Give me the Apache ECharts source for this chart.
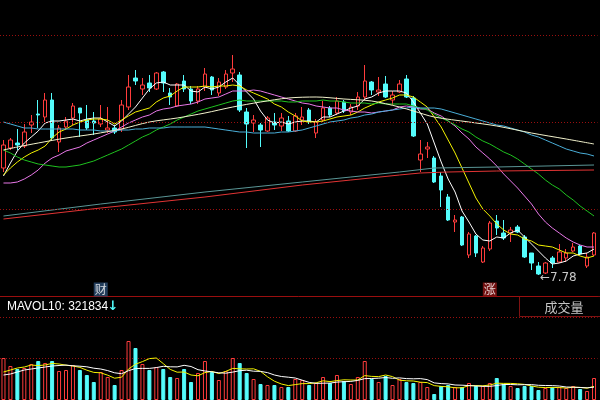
<!DOCTYPE html>
<html><head><meta charset="utf-8">
<script src="https://cdn.jsdelivr.net/npm/echarts@6/dist/echarts.min.js"></script>
<style>html,body{margin:0;padding:0;background:#000;}#c{width:600px;height:400px;}</style>
</head><body><div id="c"></div>
<script>
// ---- categories (trading days) ----
const days = [];
for (let i = 1; i <= 86; i++) days.push('D' + i);

// ---- candles ----
const opens = [8.85,9.05,9.10,9.07,9.28,9.39,9.36,9.53,9.11,9.26,
9.35,9.45,9.33,9.32,9.29,9.23,9.25,9.24,9.46,9.75,
9.64,9.70,9.64,9.81,9.60,9.47,9.72,9.64,9.52,9.66,
9.76,9.60,9.66,9.80,9.78,9.41,9.30,9.28,9.22,9.31,
9.27,9.32,9.22,9.33,9.43,9.20,9.33,9.45,9.40,9.51,
9.41,9.47,9.56,9.71,9.61,9.69,9.53,9.61,9.74,9.55,
8.93,9.04,8.95,8.77,8.56,8.31,8.36,7.98,8.17,7.91,
8.04,8.32,8.20,8.20,8.26,8.16,8.00,7.87,7.80,7.95,
7.91,7.95,8.02,8.07,7.87,7.98];
const closes = [9.08,9.13,9.08,9.21,9.31,9.38,9.53,9.15,9.25,9.32,
9.47,9.40,9.25,9.30,9.34,9.25,9.21,9.48,9.66,9.72,
9.68,9.65,9.80,9.70,9.56,9.69,9.64,9.52,9.64,9.79,
9.63,9.71,9.79,9.84,9.43,9.29,9.33,9.23,9.35,9.28,
9.35,9.22,9.37,9.36,9.31,9.31,9.45,9.38,9.52,9.42,
9.46,9.56,9.72,9.63,9.63,9.56,9.58,9.69,9.56,9.17,
8.99,9.06,8.71,8.63,8.33,8.33,8.08,8.19,8.00,8.05,
8.30,8.25,8.15,8.23,8.21,7.96,7.90,7.79,7.90,7.90,
8.01,8.00,8.06,7.99,7.96,8.20];
const lows = [8.81,9.03,9.03,9.05,9.20,9.25,9.31,9.13,9.01,9.23,
9.28,9.16,9.23,9.18,9.26,9.20,9.19,9.21,9.43,9.68,
9.58,9.61,9.63,9.61,9.48,9.46,9.61,9.49,9.49,9.62,
9.58,9.57,9.64,9.71,9.41,9.05,9.21,9.06,9.21,9.23,
9.22,9.21,9.21,9.28,9.29,9.15,9.31,9.36,9.38,9.40,
9.38,9.43,9.53,9.58,9.57,9.55,9.48,9.60,9.55,9.16,
8.81,8.95,8.70,8.46,8.32,8.21,8.07,7.95,7.96,7.90,
8.02,8.18,8.13,8.11,8.20,7.95,7.83,7.78,7.79,7.85,
7.90,7.91,8.01,7.98,7.85,7.97];
const highs = [9.13,9.15,9.24,9.29,9.38,9.53,9.60,9.60,9.28,9.36,
9.50,9.45,9.48,9.41,9.48,9.46,9.28,9.53,9.78,9.83,
9.75,9.78,9.81,9.82,9.65,9.70,9.78,9.67,9.67,9.85,
9.77,9.75,9.83,9.98,9.81,9.45,9.38,9.30,9.37,9.40,
9.40,9.37,9.40,9.46,9.45,9.34,9.52,9.47,9.56,9.53,
9.49,9.61,9.88,9.72,9.76,9.77,9.62,9.73,9.78,9.57,
9.13,9.11,8.97,8.81,8.59,8.38,8.37,8.21,8.18,8.07,
8.32,8.38,8.33,8.26,8.28,8.18,8.00,7.91,7.91,7.97,
8.09,8.04,8.10,8.08,8.00,8.21];

// ---- moving averages ----
const ma5 = [8.77,8.90,9.02,9.10,9.16,9.22,9.30,9.32,9.32,9.33,
9.34,9.32,9.34,9.35,9.35,9.31,9.27,9.32,9.39,9.46,
9.55,9.64,9.70,9.71,9.68,9.68,9.68,9.62,9.61,9.66,
9.64,9.66,9.71,9.75,9.68,9.61,9.54,9.42,9.33,9.30,
9.31,9.29,9.31,9.32,9.32,9.31,9.36,9.36,9.39,9.42,
9.45,9.47,9.54,9.56,9.60,9.62,9.62,9.62,9.60,9.51,
9.40,9.29,9.10,8.91,8.74,8.61,8.42,8.31,8.19,8.13,
8.12,8.16,8.15,8.20,8.23,8.16,8.09,8.02,7.95,7.89,
7.90,7.92,7.97,7.99,8.00,8.04];
const ma10 = [8.78,8.85,8.91,8.96,9.00,9.03,9.07,9.15,9.21,9.24,
9.28,9.31,9.33,9.34,9.34,9.33,9.29,9.33,9.37,9.41,
9.43,9.45,9.51,9.55,9.57,9.62,9.66,9.66,9.66,9.67,
9.66,9.67,9.67,9.68,9.67,9.63,9.60,9.57,9.54,9.49,
9.46,9.41,9.37,9.32,9.31,9.31,9.32,9.34,9.36,9.37,
9.38,9.41,9.45,9.48,9.51,9.53,9.55,9.58,9.58,9.56,
9.51,9.46,9.36,9.26,9.13,9.00,8.85,8.70,8.55,8.44,
8.37,8.29,8.23,8.19,8.18,8.14,8.12,8.08,8.07,8.06,
8.03,8.00,8.00,7.97,7.95,7.97];
const ma20 = [8.70,8.70,8.71,8.74,8.78,8.83,8.90,8.95,8.98,9.02,
9.04,9.06,9.10,9.13,9.16,9.19,9.22,9.26,9.30,9.33,
9.36,9.38,9.42,9.44,9.45,9.47,9.48,9.49,9.51,9.54,
9.55,9.56,9.59,9.62,9.62,9.62,9.63,9.62,9.60,9.58,
9.56,9.54,9.52,9.50,9.49,9.47,9.46,9.45,9.45,9.43,
9.42,9.41,9.41,9.40,9.41,9.42,9.43,9.46,9.47,9.46,
9.44,9.44,9.40,9.37,9.32,9.27,9.20,9.14,9.06,9.00,
8.94,8.87,8.79,8.72,8.65,8.57,8.49,8.39,8.31,8.25,
8.20,8.15,8.11,8.08,8.06,8.06];
const ma30 = [9.03,9.00,8.96,8.93,8.91,8.89,8.88,8.87,8.86,8.86,
8.87,8.88,8.90,8.92,8.95,8.98,9.01,9.04,9.08,9.12,
9.16,9.19,9.23,9.26,9.29,9.33,9.36,9.39,9.42,9.44,
9.46,9.48,9.50,9.52,9.53,9.52,9.52,9.52,9.52,9.52,
9.52,9.51,9.51,9.52,9.52,9.52,9.53,9.52,9.52,9.51,
9.50,9.50,9.50,9.49,9.50,9.49,9.49,9.49,9.49,9.47,
9.45,9.43,9.39,9.35,9.32,9.28,9.24,9.21,9.16,9.12,
9.09,9.05,9.01,8.98,8.94,8.89,8.84,8.79,8.73,8.68,
8.64,8.58,8.53,8.47,8.42,8.37];
const ma60 = [9.31,9.29,9.27,9.25,9.25,9.24,9.24,9.24,9.24,9.24,
9.24,9.23,9.23,9.23,9.22,9.22,9.22,9.23,9.23,9.24,
9.24,9.25,9.25,9.25,9.26,9.26,9.26,9.26,9.26,9.26,
9.25,9.24,9.23,9.22,9.21,9.21,9.20,9.20,9.20,9.20,
9.21,9.21,9.22,9.23,9.25,9.27,9.29,9.31,9.32,9.33,
9.35,9.36,9.38,9.39,9.41,9.42,9.43,9.44,9.45,9.46,
9.45,9.45,9.45,9.44,9.42,9.40,9.38,9.36,9.34,9.32,
9.30,9.28,9.27,9.25,9.23,9.21,9.18,9.16,9.13,9.10,
9.07,9.04,9.02,9.00,8.99,8.97];
// long averages, read at sampled days
const ma120Idx = [0,2,5,9,13,17,21,25,29,33,37,41,45,49,53,57,59,62,67,71,76,81,85];
const ma120Val = [9.03,9.06,9.10,9.15,9.19,9.24,9.31,9.35,9.40,9.46,9.51,9.55,9.56,9.54,9.52,9.46,9.42,9.36,9.31,9.27,9.20,9.14,9.09];
const ma180Idx = [0,14,29,43,50,57,62,71,85];
const ma180Val = [8.37,8.49,8.61,8.71,8.76,8.81,8.85,8.86,8.88];
const ma250Idx = [0,14,29,43,50,57,60,64,71,85];
const ma250Val = [8.34,8.45,8.56,8.68,8.73,8.78,8.80,8.81,8.82,8.83];

// ---- volume ----
const volumes = [1050000,850000,775000,800000,900000,975000,925000,975000,725000,750000,
875000,750000,625000,450000,700000,575000,375000,750000,1475000,1300000,
900000,750000,825000,775000,575000,550000,775000,450000,675000,975000,
700000,500000,725000,1050000,925000,675000,525000,400000,375000,375000,
325000,325000,525000,500000,375000,425000,575000,425000,625000,475000,
400000,575000,975000,525000,450000,600000,375000,525000,450000,425000,
450000,325000,150000,350000,375000,325000,325000,425000,350000,350000,
425000,550000,400000,350000,300000,350000,350000,250000,300000,325000,
325000,300000,350000,275000,225000,550000];
const mavol5 = [700000,750000,800000,825000,875000,860000,875000,915000,900000,870000,
850000,815000,745000,690000,680000,620000,545000,570000,775000,895000,
960000,1035000,1050000,910000,765000,695000,700000,625000,605000,685000,
715000,660000,715000,790000,780000,775000,780000,715000,580000,470000,
400000,360000,385000,410000,410000,430000,480000,460000,485000,505000,
500000,500000,610000,590000,585000,625000,585000,495000,480000,475000,
445000,435000,360000,340000,330000,305000,305000,360000,360000,355000,
375000,420000,415000,415000,405000,390000,350000,320000,310000,315000,
310000,300000,320000,315000,295000,340000];
const mavol10 = [625000,650000,700000,750000,775000,800000,825000,850000,862500,872500,
855000,845000,830000,795000,775000,735000,680000,657500,732500,787500,
790000,790000,810000,842500,830000,827500,867500,837500,757500,725000,
705000,680000,670000,697500,732500,745000,720000,715000,685000,625000,
587500,570000,550000,495000,440000,415000,420000,422500,447500,457500,
465000,490000,535000,537500,545000,562500,542500,552500,535000,530000,
535000,510000,427500,410000,402500,375000,370000,360000,350000,342500,
340000,362500,387500,387500,380000,382500,385000,367500,362500,360000,
350000,325000,320000,312500,305000,321834];

// ---- price guide levels and texts ----
const priceLevels = [8.44, 9.31, 10.18];
const events = [{idx: 14, text: '财', color: '#2b4c72'}, {idx: 70, text: '涨', color: '#8e1414'}];
const eventLevel = 7.635;
const mavolLabel = 'MAVOL10: 321834';
const panelTitle = '成交量';

const UP = '#ff3c3c', DOWN = '#54fcfc', GRIDC = '#9a0f0f';

const candles = opens.map((o, i) => [o, closes[i], lows[i], highs[i]]);
const pairs = (idx, val) => idx.map((d, k) => [d, val[k]]);
const volData = volumes.map((v, i) => ({
  value: v,
  itemStyle: closes[i] >= opens[i]
    ? {color: '#000', borderColor: UP, borderWidth: 1}
    : {color: DOWN, borderColor: DOWN, borderWidth: 1}
}));

const line = (name, data, color, xi, yi, extra) => Object.assign({
  name, type: 'line', data, xAxisIndex: xi, yAxisIndex: yi,
  showSymbol: false, symbol: 'none', silent: true, z: 3,
  lineStyle: {color, width: 1}
}, extra || {});

const chart = echarts.init(document.getElementById('c'), null, {renderer: 'canvas'});
chart.setOption({
  backgroundColor: '#000',
  animation: false,
  grid: [
    {left: -4.5, right: 2.5, top: 0, height: 296},
    {left: -4.5, right: 2.5, top: 317, height: 83}
  ],
  xAxis: [
    {type: 'category', data: days, gridIndex: 0, boundaryGap: true,
     axisLine: {show: true, lineStyle: {color: GRIDC, width: 1}}, axisTick: {show: false}, axisLabel: {show: false}, splitLine: {show: false}},
    {type: 'value', gridIndex: 0, min: -0.5, max: 85.5, show: false},
    {type: 'category', data: days, gridIndex: 1, boundaryGap: true,
     axisLine: {show: false}, axisTick: {show: false}, axisLabel: {show: false}, splitLine: {show: false}}
  ],
  yAxis: [
    {type: 'value', gridIndex: 0, min: 7.57, max: 10.53,
     axisLine: {show: false}, axisTick: {show: false}, axisLabel: {show: false}, splitLine: {show: false}},
    {type: 'value', gridIndex: 1, min: 0, max: 2075000, interval: 1037500,
     axisLine: {show: false}, axisTick: {show: false}, axisLabel: {show: false},
     splitLine: {show: true, lineStyle: {color: GRIDC, width: 1, type: [1, 2]}}}
  ],
  graphic: [
    {type: 'text', x: 7, y: 307, style: {text: mavolLabel, fill: '#ffffff', font: '12px "Liberation Sans", Arial, sans-serif', verticalAlign: 'middle'}},
    {type: 'text', x: 113, y: 307, style: {text: '↓', fill: DOWN, font: 'bold 13px "DejaVu Sans", sans-serif', align: 'center', verticalAlign: 'middle'}},
    {type: 'rect', shape: {x: 519.5, y: 296.5, width: 90, height: 20}, style: {fill: 'none', stroke: '#7e1212', lineWidth: 1}},
    {type: 'text', x: 564, y: 307, style: {text: panelTitle, fill: '#c4c4c4', font: '13px "Noto Sans CJK SC", sans-serif', align: 'center', verticalAlign: 'middle'}}
  ],
  series: [
    {name: 'K', type: 'candlestick', data: candles, xAxisIndex: 0, yAxisIndex: 0, barWidth: 4, z: 2,
     itemStyle: {color: '#000', color0: DOWN, borderColor: UP, borderColor0: DOWN, borderWidth: 1},
     markLine: {
       silent: true, symbol: 'none', label: {show: false},
       lineStyle: {color: GRIDC, width: 1, type: [1, 2]},
       data: priceLevels.map(v => ({yAxis: v}))
     },
     markPoint: {
       symbol: 'circle', symbolSize: 1, itemStyle: {color: 'rgba(0,0,0,0)'},
       label: {show: true, position: 'right', distance: 0, offset: [1, 3], color: '#c8c8c8',
               fontFamily: '"DejaVu Sans", sans-serif', fontSize: 12,
               formatter: p => '\u2190' + Number(p.value).toFixed(2)},
       data: [{type: 'min', valueDim: 'lowest'}]
     }},
    line('MA5', ma5, '#ffffff', 0, 0),
    line('MA10', ma10, '#f4f400', 0, 0),
    line('MA20', ma20, '#e878e8', 0, 0),
    line('MA30', ma30, '#1fc21f', 0, 0),
    line('MA60', ma60, '#4aaed8', 0, 0),
    line('MA120', pairs(ma120Idx, ma120Val), '#f2f2cc', 1, 0, {smooth: 0.3}),
    line('MA180', pairs(ma180Idx, ma180Val), '#5a9696', 1, 0),
    line('MA250', pairs(ma250Idx, ma250Val), '#e23434', 1, 0),
    {name: 'events', type: 'scatter', xAxisIndex: 0, yAxisIndex: 0, z: 5,
     symbol: 'rect', symbolSize: [14, 14],
     data: events.map(e => ({value: [e.idx, eventLevel], itemStyle: {color: e.color},
       label: {show: true, position: 'inside', formatter: e.text, color: '#ffffff',
               fontSize: 12, fontFamily: '"Noto Sans CJK SC", sans-serif'}}))},
    {name: 'VOL', type: 'bar', data: volData, xAxisIndex: 2, yAxisIndex: 1, barWidth: 4, z: 2},
    line('MAVOL5', mavol5, '#f4f400', 2, 1),
    line('MAVOL10', mavol10, '#ffffff', 2, 1)
  ]
});
</script></body></html>
